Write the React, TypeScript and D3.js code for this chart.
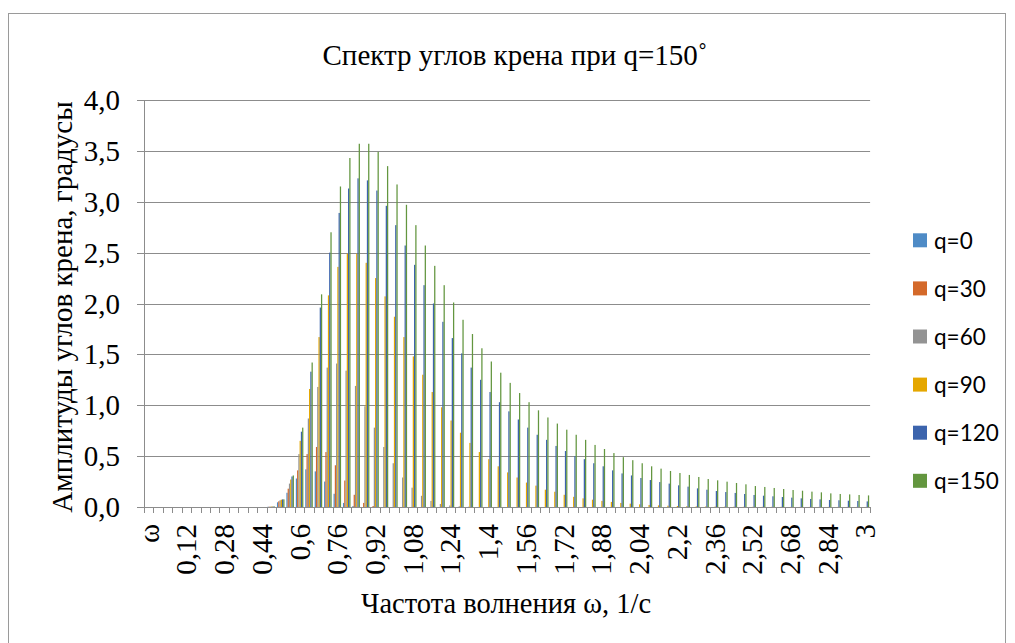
import React from "react";
import * as d3 from "d3";

const categories: string[] = [
  "ω","0","0,04","0,08","0,12","0,16","0,2","0,24","0,28","0,32","0,36","0,4","0,44","0,48","0,52","0,56",
  "0,6","0,64","0,68","0,72","0,76","0,8","0,84","0,88","0,92","0,96","1","1,04","1,08","1,12","1,16","1,2",
  "1,24","1,28","1,32","1,36","1,4","1,44","1,48","1,52","1,56","1,6","1,64","1,68","1,72","1,76","1,8","1,84",
  "1,88","1,92","1,96","2","2,04","2,08","2,12","2,16","2,2","2,24","2,28","2,32","2,36","2,4","2,44","2,48",
  "2,52","2,56","2,6","2,64","2,68","2,72","2,76","2,8","2,84","2,88","2,92","2,96","3"
];

const seriesNames: string[] = ["q=0", "q=30", "q=60", "q=90", "q=120", "q=150"];
const seriesColors: string[] = ["#4E8BC6", "#D4692A", "#939393", "#E5A700", "#3C64AD", "#63963F"];

// index 0..12 (ω .. 0,44) are zero
const q0: number[] = [
  0,0,0,0,0,0,0,0,0,0,0,0,0,
  0.003,0.046,0.14,0.28,0.37,0.35,0.25,0.13,0.04,0.01,0,0,
  0,0,0,0,0,0,0,0,0,0,0,0,0,0,0,0,0,0,0,0,0,0,0,0,0,0,0,0,0,0,0,0,0,0,0,0,0,0,0,0,0,0,0,0,0,0,0,0,0,0,0,0
];
const q30: number[] = [
  0,0,0,0,0,0,0,0,0,0,0,0,0,
  0.003,0.056,0.18,0.36,0.52,0.59,0.54,0.41,0.26,0.12,0.04,0.01,
  0,0,0,0,0,0,0,0,0,0,0,0,0,0,0,0,0,0,0,0,0,0,0,0,0,0,0,0,0,0,0,0,0,0,0,0,0,0,0,0,0,0,0,0,0,0,0,0,0,0,0,0
];
const q60: number[] = [
  0,0,0,0,0,0,0,0,0,0,0,0,0,
  0.004,0.066,0.23,0.52,0.87,1.18,1.37,1.41,1.34,1.19,0.99,0.78,
  0.59,0.43,0.29,0.19,0.11,0.06,0.03,0.015,0.007,0.003,0,0,0,0,0,0,0,0,0,0,0,0,0,0,0,0,0,0,0,0,0,0,0,0,0,0,0,0,0,0,0,0,0,0,0,0,0,0,0,0,0,0
];
const q90: number[] = [
  0,0,0,0,0,0,0,0,0,0,0,0,0,
  0.006,0.072,0.27,0.65,1.16,1.67,2.08,2.36,2.49,2.49,2.40,2.25,
  2.07,1.87,1.67,1.48,1.30,1.13,0.98,0.85,0.73,0.63,0.54,0.47,0.40,0.34,0.29,0.24,0.21,0.17,0.15,0.12,0.10,0.085,0.072,
  0.06,0.05,0.04,0.033,0.026,0.02,0.016,0.013,0.01,0.008,0.006,0.005,0.004,0.003,0.003,0.002,0.002,0.002,0.002,0.002,
  0.001,0.001,0.001,0.001,0.001,0.001,0.001,0.001,0.001
];
const q120: number[] = [
  0,0,0,0,0,0,0,0,0,0,0,0,0,
  0.005,0.075,0.30,0.74,1.33,1.96,2.50,2.89,3.13,3.23,3.21,3.11,
  2.96,2.77,2.57,2.38,2.18,2.00,1.82,1.66,1.51,1.37,1.25,1.13,1.03,0.94,0.86,0.78,0.71,0.66,0.60,0.55,0.50,0.47,0.43,
  0.40,0.36,0.33,0.31,0.285,0.265,0.245,0.23,0.213,0.20,0.183,0.17,0.157,0.147,0.138,0.128,0.118,0.111,0.105,0.098,
  0.092,0.085,0.079,0.075,0.069,0.066,0.062,0.059,0.055
];
const q150: number[] = [
  0,0,0,0,0,0,0,0,0,0,0,0,0,
  0.005,0.075,0.31,0.78,1.42,2.09,2.70,3.15,3.43,3.57,3.57,3.49,
  3.35,3.17,2.97,2.77,2.57,2.37,2.18,2.01,1.84,1.70,1.56,1.43,1.32,1.22,1.12,1.03,0.95,0.88,0.82,0.76,0.71,0.66,0.61,
  0.57,0.53,0.49,0.46,0.43,0.40,0.377,0.354,0.334,0.315,0.295,0.275,0.262,0.249,0.236,0.223,0.206,0.197,0.187,0.177,
  0.167,0.16,0.151,0.144,0.134,0.128,0.124,0.118,0.114
];

const seriesValues: number[][] = [q0, q30, q60, q90, q120, q150];
const yTicks: number[] = [0, 0.5, 1, 1.5, 2, 2.5, 3, 3.5, 4];

const W = 1015;
const H = 643;
const plot = { left: 144, right: 870.1, top: 100, bottom: 507 };

export default function App() {
  const x = d3.scaleBand<number>().domain(d3.range(categories.length)).range([plot.left, plot.right]).padding(0);
  const xs = d3.scaleBand<number>().domain(d3.range(seriesNames.length)).range([0, x.bandwidth()]).paddingInner(0).paddingOuter(0.75);
  const y = d3.scaleLinear().domain([0, 4]).range([plot.bottom, plot.top]);
  const serif = "'Liberation Serif', 'Times New Roman', serif";
  const sans = "Lato, 'Noto Sans', sans-serif";
  const fmt = (v: number) => v.toFixed(1).replace(".", ",");
  const fs = 29;

  return (
    <svg width={W} height={H} style={{ position: "absolute", left: 0, top: 0, background: "#fff" }}>
      <rect x={0} y={0} width={W} height={H} fill="#fff" />
      <rect x={8.5} y={13.5} width={997} height={640} fill="none" stroke="#9a9a9a" strokeWidth={1} />
      <text x={515} y={55} textAnchor="middle" dominantBaseline="central" fontFamily={serif} fontSize={fs} fill="#000">
        Спектр углов крена при q=150˚
      </text>
      {yTicks.map((t) => (
        <line key={"g" + t} x1={137} x2={plot.right} y1={Math.round(y(t)) + 0.5} y2={Math.round(y(t)) + 0.5} stroke="#8c8c8c" strokeWidth={1} />
      ))}
      <line x1={plot.left + 0.5} x2={plot.left + 0.5} y1={plot.top} y2={plot.bottom} stroke="#8c8c8c" />
      {yTicks.map((t) => (
        <text key={"yl" + t} x={120} y={y(t)} textAnchor="end" dominantBaseline="central" fontFamily={serif} fontSize={fs} fill="#000">
          {fmt(t)}
        </text>
      ))}
      {seriesValues.map((vals, si) => (
        <g key={"s" + si} fill={seriesColors[si]}>
          {vals.map((v, ci) =>
            v > 0 ? (
              <rect key={ci} x={(x(ci) as number) + (xs(si) as number)} width={xs.bandwidth()} y={y(v)} height={y(0) - y(v)} />
            ) : null
          )}
        </g>
      ))}
      <line x1={plot.left} x2={plot.right} y1={Math.round(y(0)) + 0.5} y2={Math.round(y(0)) + 0.5} stroke="#8c8c8c" />
      {d3.range(categories.length + 1).map((i) => {
        const xx = Math.round(plot.left + i * x.step()) + 0.5;
        return <line key={"xt" + i} x1={xx} x2={xx} y1={plot.bottom} y2={plot.bottom + 6} stroke="#8c8c8c" />;
      })}
      {categories.map((c, i) =>
        i % 4 === 0 ? (
          <text
            key={"xl" + i}
            transform={`translate(${(x(i) as number) + x.bandwidth() / 2},${plot.bottom + 17}) rotate(-90)`}
            textAnchor="end"
            dominantBaseline="central"
            fontFamily={serif}
            fontSize={fs}
            fill="#000"
          >
            {c}
          </text>
        ) : null
      )}
      <text x={506} y={603} textAnchor="middle" dominantBaseline="central" fontFamily={serif} fontSize={28.5} fill="#000">
        Частота волнения ω, 1/с
      </text>
      <text transform="translate(62,307) rotate(-90)" textAnchor="middle" dominantBaseline="central" fontFamily={serif} fontSize={fs} fill="#000">
        Амплитуды углов крена, градусы
      </text>
      {seriesNames.map((n, i) => {
        const cy = 240.3 + i * 48.1;
        return (
          <g key={"lg" + i}>
            <rect x={913} y={cy - 7} width={14} height={14} fill={seriesColors[i]} />
            <text x={934} y={cy} dominantBaseline="central" fontFamily={sans} fontSize={22.5} fill="#000">
              {n}
            </text>
          </g>
        );
      })}
    </svg>
  );
}
